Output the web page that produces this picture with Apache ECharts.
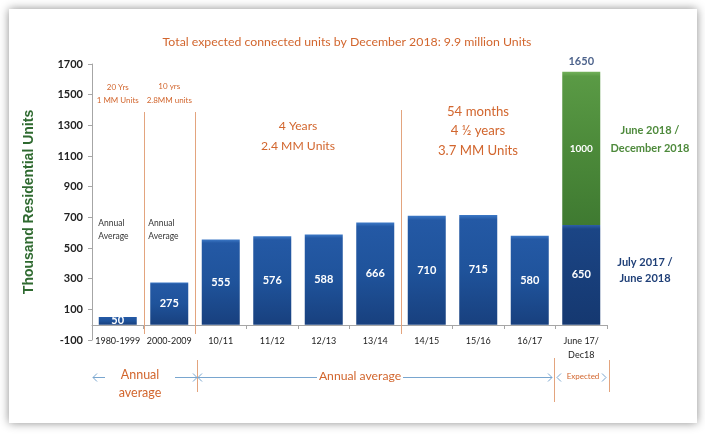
<!DOCTYPE html>
<html>
<head>
<meta charset="utf-8">
<script src="https://cdn.jsdelivr.net/npm/echarts@6/dist/echarts.min.js"></script>
<style>
html,body{margin:0;padding:0;background:#fff;}
#c{width:705px;height:434px;}
</style>
</head>
<body>
<div id="c"></div>
<script>
const categories = ['1980-1999','2000-2009','10/11','11/12','12/13','13/14','14/15','15/16','16/17','June 17/\nDec18'];
const annualValues = [50,275,555,576,588,666,710,715,580,650];
const expectedValues = [null,null,null,null,null,null,null,null,null,1000];
const totalValues = [null,null,null,null,null,null,null,null,null,1650];
const yTicks = {min:-100, max:1700, interval:200};

const NARROW = 'Lato,"Liberation Sans",sans-serif';
const ORANGE = '#d2662e';
const BLUE = new echarts.graphic.LinearGradient(0,0,0,1,[
  {offset:0,color:'#3c78c6'},{offset:0.04,color:'#2459a5'},{offset:0.5,color:'#1f539b'},{offset:1,color:'#18407e'}]);
const NAVY = new echarts.graphic.LinearGradient(0,0,0,1,[
  {offset:0,color:'#2d5fa6'},{offset:0.04,color:'#1b4585'},{offset:1,color:'#153870'}]);
const GREEN = new echarts.graphic.LinearGradient(0,0,0,1,[
  {offset:0,color:'#73b25a'},{offset:0.03,color:'#5a9a45'},{offset:0.5,color:'#4c8a3a'},{offset:1,color:'#3f7a31'}]);

const chart = echarts.init(document.getElementById('c'));

const blueData = annualValues.map((v,i)=> i===categories.length-1 ? {value:v,itemStyle:{color:NAVY}} : v);

chart.setOption({
  animation:false,
  title:{text:'Total expected connected units by December 2018: 9.9 million Units',left:342,textAlign:'center',top:31,
    textStyle:{color:ORANGE,fontFamily:NARROW,fontSize:12.3,fontWeight:'normal'}},
  grid:{left:92,right:98,top:64,bottom:94},
  xAxis:{type:'category',data:categories,offset:-15,
    axisLine:{onZero:false,lineStyle:{color:'#a6a6a6'}},
    axisTick:{show:true,length:4,lineStyle:{color:'#a6a6a6'}},
    axisLabel:{color:'#222',fontFamily:NARROW,fontSize:9,margin:9,lineHeight:14,interval:0}},
  yAxis:{type:'value',min:yTicks.min,max:yTicks.max,interval:yTicks.interval,
    name:'Thousand Residential Units',nameLocation:'middle',nameGap:56,
    nameTextStyle:{color:'#2f6a30',fontFamily:'"Liberation Sans",Arial,sans-serif',fontSize:14,fontWeight:'bold'},
    axisLine:{show:true,lineStyle:{color:'#a6a6a6'}},
    axisTick:{show:true,length:4,lineStyle:{color:'#a6a6a6'}},
    splitLine:{show:false},
    axisLabel:{color:'#222',fontFamily:NARROW,fontSize:11,fontWeight:'bold',margin:9,formatter:v=>String(v)}},
  series:[
    {type:'bar',stack:'s',data:blueData,barWidth:38,itemStyle:{color:BLUE},
      label:{show:true,position:'inside',color:'#fff',fontFamily:NARROW,fontSize:11,fontWeight:'bold'}},
    {type:'bar',stack:'s',data:expectedValues,barWidth:38,itemStyle:{color:GREEN},
      label:{show:true,position:'inside',color:'#fff',fontFamily:NARROW,fontSize:10,fontWeight:'bold'}},
    {type:'scatter',data:totalValues,symbolSize:0,
      label:{show:true,position:'top',distance:5,color:'#1f3b6e',fontFamily:NARROW,fontSize:11,fontWeight:'bold',formatter:'{c}'}}
  ]
});

const xc = i => chart.convertToPixel({xAxisIndex:0}, i);
const bnd = i => Math.round((xc(i)+xc(i+1))/2)+0.5;

function txt(x,y,t,color,size,opts){
  return {type:'text',x:x,y:y,z:50,style:{text:t,fill:color,font:(opts&&opts.weight||'normal')+' '+size+'px '+NARROW,
    align:(opts&&opts.align)||'center',verticalAlign:'middle',lineHeight:(opts&&opts.lh)||size+3}};
}
function vline(x,y1,y2){
  return {type:'line',z:40,shape:{x1:x,y1:y1,x2:x,y2:y2},style:{stroke:'#e3a47e',lineWidth:1}};
}
function hline(x1,x2,y){
  return {type:'line',z:40,shape:{x1:x1,y1:y,x2:x2,y2:y},style:{stroke:'#79a6cf',lineWidth:1}};
}
function head(x,y,dir){
  return {type:'polyline',z:40,shape:{points:[[x-4*dir,y-4],[x,y],[x-4*dir,y+4]]},style:{stroke:'#79a6cf',lineWidth:1,fill:null}};
}

const AY = 377.5;
const els = [
  {type:'rect',z:-100,shape:{x:9,y:9,width:688,height:414},style:{fill:'#fff',shadowBlur:9,shadowColor:'rgba(0,0,0,0.45)'}},
  vline(bnd(0),112,334), vline(bnd(1),112,334), vline(bnd(5),110,334),
  txt(xc(0),94,'20 Yrs\n1 MM Units',ORANGE,8,{lh:13}),
  txt(xc(1),93,'10 yrs\n2.8MM units',ORANGE,8,{lh:14}),
  txt((xc(2)+xc(5))/2,136,'4 Years\n2.4 MM Units',ORANGE,12.2,{lh:20}),
  txt(478,131,'54 months\n4 ½ years\n3.7 MM Units',ORANGE,13.2,{lh:19.5}),
  txt(xc(0)-19.5,230,'Annual\nAverage','#333',8.5,{align:'left',lh:13}),
  txt(xc(1)-21,230,'Annual\nAverage','#333',8.5,{align:'left',lh:13}),
  txt(650,139,'June 2018 /\nDecember 2018','#4e8a3c',11,{lh:18,weight:'bold'}),
  txt(645,270,'July 2017 /\nJune 2018','#1f3f77',11,{lh:16,weight:'bold'}),
  vline(197.5,360,392), vline(554.5,358,402), vline(609.5,360,392),
  hline(93,105,AY), head(93,AY,-1),
  txt(140,384,'Annual\naverage',ORANGE,12.5,{lh:18}),
  hline(175,197,AY), head(197,AY,1),
  hline(198,317,AY), head(198,AY,-1),
  txt(360,376,'Annual average',ORANGE,12.2),
  hline(403,552,AY), head(552,AY,1),
  head(557,AY,-1),
  txt(583,376,'Expected',ORANGE,8),
  head(606,AY,1)
];
chart.setOption({graphic:{elements:els}});
</script>
</body>
</html>
